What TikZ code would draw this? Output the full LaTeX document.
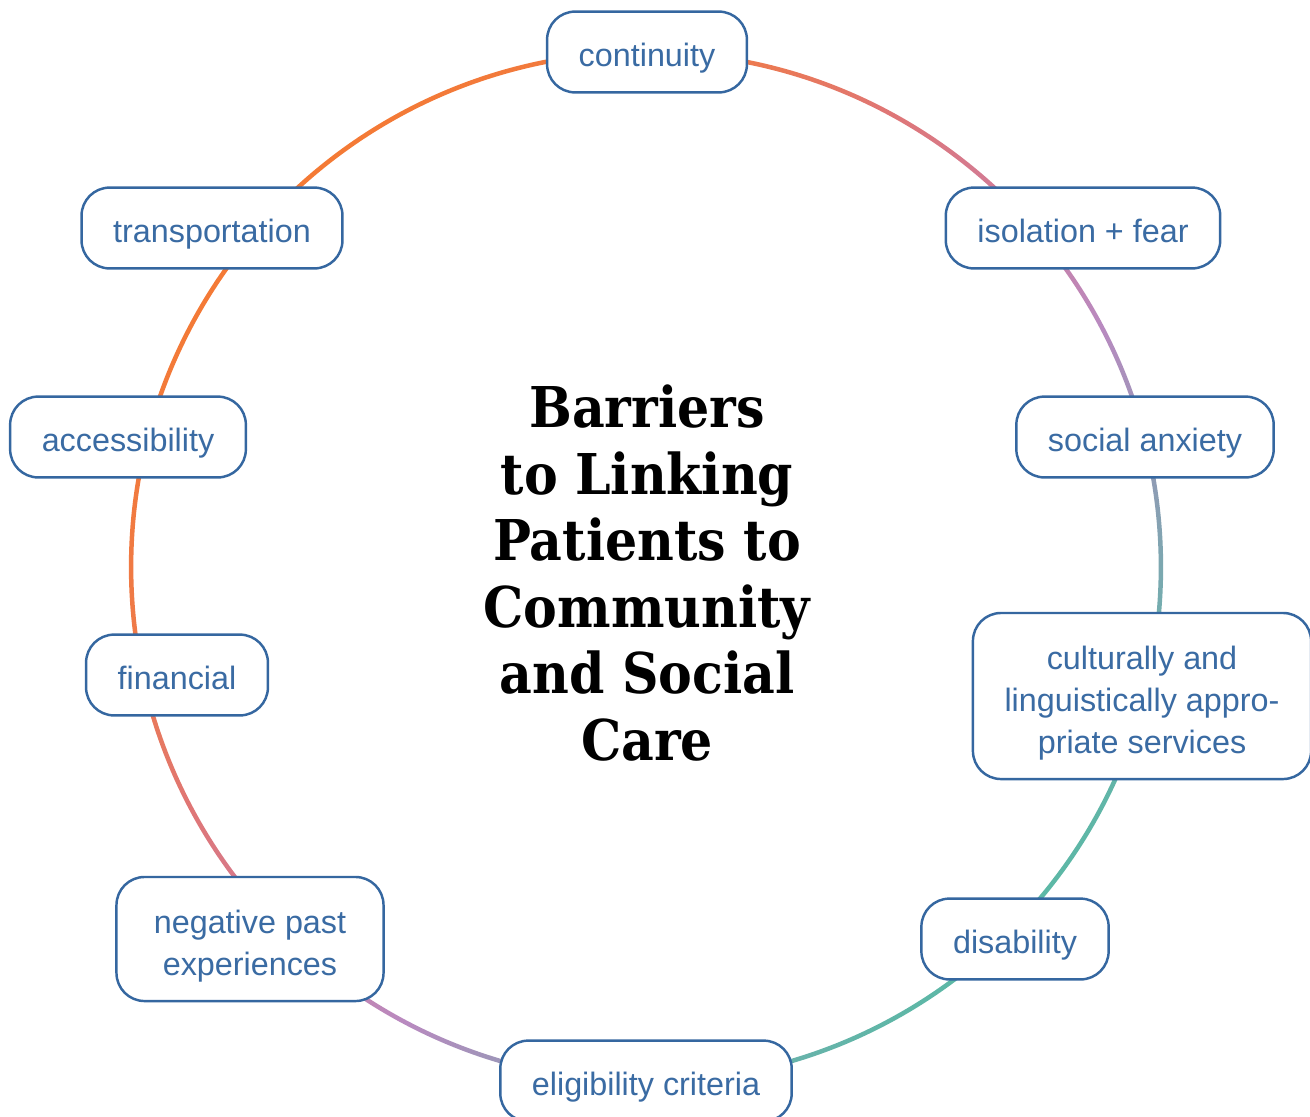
\documentclass[tikz,border=0pt]{standalone}
\usepackage{fontspec}
\usepackage{tikz}
\setmainfont{Liberation Sans}
\newfontfamily\titlefont{DejaVu Serif Condensed}

\definecolor{barrierblue}{HTML}{3567A0}
\definecolor{labelblue}{HTML}{3A6BA3}
\definecolor{ringA}{HTML}{F47A35}
\definecolor{ringB}{HTML}{EE7A4A}
\definecolor{ringC}{HTML}{DF7676}
\definecolor{ringD}{HTML}{D07C9A}
\definecolor{ringE}{HTML}{B98AC0}
\definecolor{ringF}{HTML}{8E9CB4}
\definecolor{ringG}{HTML}{72AEAE}
\definecolor{ringH}{HTML}{5CB8A6}
\pgfdeclarehorizontalshading{ringfade}{100bp}{color(0bp)=(ringA); color(25bp)=(ringA); color(35.4bp)=(ringB); color(42.7bp)=(ringC); color(50bp)=(ringD); color(57.3bp)=(ringE); color(64.6bp)=(ringF); color(69.4bp)=(ringG); color(75bp)=(ringH); color(100bp)=(ringH)}

% first line of a multi-line barrier
\newcommand{\rowstrut}{\rule{0pt}{20.9pt}}

\begin{document}
\begin{tikzpicture}[
    x=0.02cm, y=-0.02cm,
    barrier/.style={rectangle, rounded corners=16pt, draw=barrierblue, line width=1.4pt, fill=white, text=labelblue, font=\fontsize{18.4}{23.9}\selectfont, align=center, inner xsep=18pt, inner ysep=11pt, minimum height=46pt},
    single/.style={barrier, text height=20pt, text depth=3pt},
    ring/.style={shading=ringfade, shading angle=-45, even odd rule}
]
\useasboundingbox (0,0) rectangle (1310,1116);

% the ring behind the barriers
\coordinate (hub) at (646,567);
\shade[ring] (hub) circle[radius=10.345cm] (hub) circle[radius=10.255cm];

\node[single] (continuity) at (647,52) {continuity};
\node[single] (isolation) at (1083,228) {isolation + fear};
\node[single] (anxiety) at (1145,437) {social anxiety};
\node[barrier] (cultural) at (1142,696) {\rowstrut culturally and\\ linguistically appro-\\ priate services};
\node[single] (disability) at (1015,939) {disability};
\node[single] (eligibility) at (646,1081) {eligibility criteria};
\node[barrier, minimum width=152pt] (negative) at (250,939) {\rowstrut negative past\\ experiences};
\node[single] (financial) at (177,675) {financial};
\node[single] (access) at (128,437) {accessibility};
\node[single] (transport) at (212,228) {transportation};

\node[font=\titlefont\bfseries\fontsize{32}{37.8}\selectfont, align=center] (title) at (647,573) {Barriers\\ to Linking\\ Patients to\\ Community\\ and Social\\ Care};

\end{tikzpicture}
\end{document}
